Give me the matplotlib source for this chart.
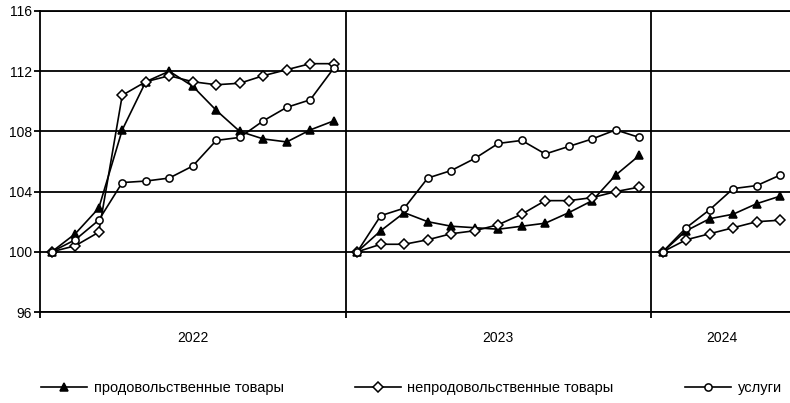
import matplotlib
matplotlib.use("Agg")
import matplotlib.pyplot as plt
import numpy as np

plt.rcParams['font.family'] = ['Liberation Sans', 'DejaVu Sans']

years = ["2022", "2023", "2024"]
points_per_year = [13, 13, 6]

food = [
    100.0, 101.2, 102.9, 108.1, 111.3, 112.0, 111.0, 109.4, 108.0, 107.5, 107.3, 108.1, 108.7,
    100.0, 101.4, 102.6, 102.0, 101.7, 101.6, 101.5, 101.7, 101.9, 102.6, 103.4, 105.1, 106.4,
    100.0, 101.4, 102.2, 102.5, 103.2, 103.7,
]
nonfood = [
    100.0, 100.4, 101.3, 110.4, 111.3, 111.7, 111.3, 111.1, 111.2, 111.7, 112.1, 112.5, 112.5,
    100.0, 100.5, 100.5, 100.8, 101.2, 101.4, 101.8, 102.5, 103.4, 103.4, 103.6, 104.0, 104.3,
    100.0, 100.8, 101.2, 101.6, 102.0, 102.1,
]
services = [
    100.0, 100.8, 102.1, 104.6, 104.7, 104.9, 105.7, 107.4, 107.6, 108.7, 109.6, 110.1, 112.2,
    100.0, 102.4, 102.9, 104.9, 105.4, 106.2, 107.2, 107.4, 106.5, 107.0, 107.5, 108.1, 107.6,
    100.0, 101.6, 102.8, 104.2, 104.4, 105.1,
]
labels = ["продовольственные товары", "непродовольственные товары", "услуги"]
yticks = [96, 100, 104, 108, 112, 116]

fs = 10
fig = plt.figure(figsize=(7.9, 4.03), dpi=100)
ax = fig.add_axes([40/790, 91/403, 752/790, 301/403])

bounds = np.concatenate([[0], np.cumsum(points_per_year)])
lw = 1.2
for s, (series, marker, ms, lab) in enumerate(zip(
        [food, nonfood, services], ['^', 'D', 'o'], [6.2, 4.6, 5.2], labels)):
    first = True
    for i in range(len(years)):
        a, b = bounds[i], bounds[i + 1]
        x = np.arange(a, b) + 0.5
        y = series[a:b]
        face = 'black' if marker == '^' else 'white'
        ax.plot(x, y, color='black', lw=lw, marker=marker, ms=ms,
                mfc=face, mec='black', mew=1.1,
                label=lab if first else None, zorder=3)
        first = False

ax.set_xlim(0, bounds[-1])
ax.set_ylim(96, 116)
ax.set_yticks(yticks)
ax.set_yticklabels([str(v) for v in yticks], fontsize=fs)
for v in yticks:
    ax.axhline(v, color='black', lw=1.3, zorder=1)
for bnd in bounds[1:-1]:
    ax.axvline(bnd, color='black', lw=1.3, zorder=1)

ax.set_xticks(bounds)
ax.set_xticklabels([])
ax.set_xticks([(bounds[i] + bounds[i + 1]) / 2 for i in range(len(years))], minor=True)
ax.set_xticklabels(years, minor=True, fontsize=fs)
ax.tick_params(axis='x', which='major', length=4, width=1.3, direction='out')
ax.tick_params(axis='x', which='minor', length=0, pad=14)
ax.tick_params(axis='y', length=4, width=1.3, direction='out', pad=2)

ax.spines['right'].set_visible(False)
for sp in ['left', 'bottom', 'top']:
    ax.spines[sp].set_linewidth(1.3)

leg = fig.legend(loc='center left', bbox_to_anchor=(41/790, 1 - 388/403), ncol=3,
                 frameon=False, fontsize=10.5, handlelength=3.15, handletextpad=0.45,
                 columnspacing=4.9, borderaxespad=0, borderpad=0)

fig.savefig("out.png", dpi=100)
